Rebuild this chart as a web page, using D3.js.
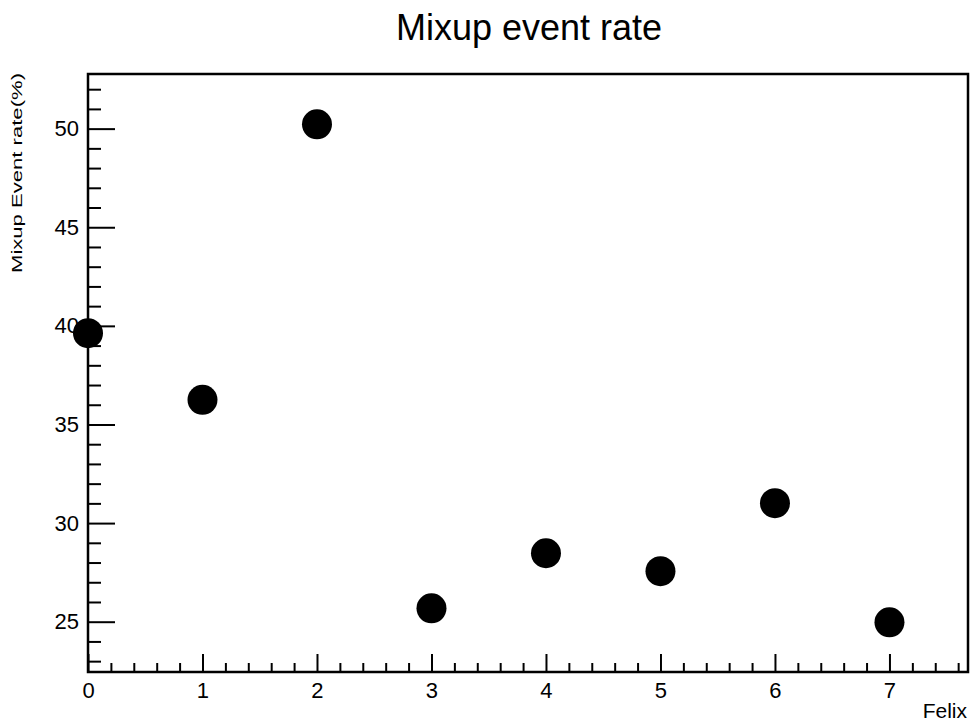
<!DOCTYPE html>
<html>
<head>
<meta charset="utf-8">
<script src="https://cdn.jsdelivr.net/npm/d3@7"></script>
<style>
  body{margin:0;background:#fff;}
  svg text{font-family:"Liberation Sans",Arial,sans-serif;fill:#000;}
</style>
</head>
<body>
<svg id="chart"></svg>
<script>
//data
var felix = [0,1,2,3,4,5,6,7];
var rate = [39.63,36.25,50.22,25.68,28.47,27.56,31.01,24.97];
var xTickVals = [0,1,2,3,4,5,6,7];
var yTickVals = [25,30,35,40,45,50];

/*********layout************/
var width = 971, height = 724;
var frame = {left:88,right:968,top:74,bottom:672};

var svg = d3.select('#chart')
	.attr('width',width)
	.attr('height',height);

var xScale = d3.scaleLinear()
	.domain([0,7.686])
	.range([frame.left,frame.right]);
var yScale = d3.scaleLinear()
	.domain([22.45,52.77])
	.range([frame.bottom,frame.top]);

/*********axes************/
var axisG = svg.append('g');
//minor x ticks every 0.2
var xMinor = d3.range(0,7.7,0.2).filter(function(v){return Math.abs(v-Math.round(v))>0.01;});
axisG.append('g')
	.attr('transform','translate(0,'+frame.bottom+')')
	.call(d3.axisBottom(xScale).tickValues(xMinor).tickSize(-9).tickFormat(''));
axisG.append('g')
	.attr('class','xmajor')
	.attr('transform','translate(0,'+frame.bottom+')')
	.call(d3.axisBottom(xScale).tickValues(xTickVals).tickSize(-18).tickPadding(10).tickFormat(d3.format('d')));
//minor y ticks every 1
var yMinor = d3.range(23,53,1).filter(function(v){return v%5!==0;});
axisG.append('g')
	.attr('transform','translate('+frame.left+',0)')
	.call(d3.axisLeft(yScale).tickValues(yMinor).tickSize(-13).tickFormat(''));
axisG.append('g')
	.attr('transform','translate('+frame.left+',0)')
	.call(d3.axisLeft(yScale).tickValues(yTickVals).tickSize(-27).tickPadding(9).tickFormat(d3.format('d')));

axisG.selectAll('.domain').remove();
axisG.selectAll('.tick line').attr('stroke','#000').attr('stroke-width',2);
axisG.selectAll('.tick text')
	.style('font-size','22px')
	.style('font-family','"Liberation Sans",Arial,sans-serif')
	.attr('fill','#000');

//frame
svg.append('rect')
	.attr('x',frame.left)
	.attr('y',frame.top)
	.attr('width',frame.right-frame.left)
	.attr('height',frame.bottom-frame.top)
	.attr('fill','none')
	.attr('stroke','#000')
	.attr('stroke-width',2.5);

/*********points************/
svg.append('g').selectAll('circle')
	.data(felix)
	.enter().append('circle')
	.attr('cx',function(d){return xScale(d);})
	.attr('cy',function(d,i){return yScale(rate[i]);})
	.attr('r',15)
	.attr('fill','#000');

/*********titles************/
svg.append('text')
	.attr('x',529)
	.attr('y',40)
	.attr('text-anchor','middle')
	.style('font-size','36px')
	.text('Mixup event rate');

svg.append('text')
	.attr('transform','translate(22,273) rotate(-90)')
	.attr('textLength',200)
	.attr('lengthAdjust','spacingAndGlyphs')
	.style('font-size','15px')
	.text('Mixup Event rate(%)');

svg.append('text')
	.attr('x',967)
	.attr('y',718)
	.attr('text-anchor','end')
	.style('font-size','21px')
	.text('Felix');
</script>
</body>
</html>
